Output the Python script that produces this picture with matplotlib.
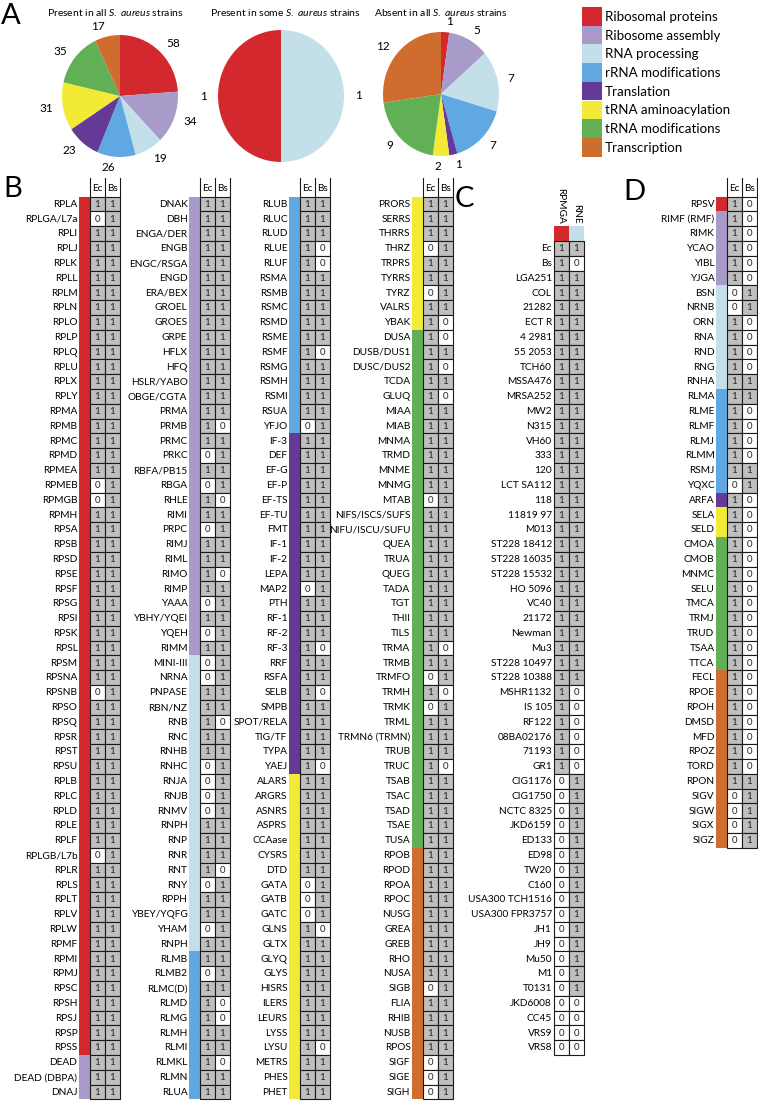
import matplotlib.pyplot as plt
from matplotlib.patches import Rectangle

plt.rcParams['font.family'] = ['Lato', 'DejaVu Sans']
plt.rcParams['mathtext.fontset'] = 'custom'
plt.rcParams['mathtext.it'] = 'Lato:italic'
plt.rcParams['mathtext.rm'] = 'Lato'

# categories and colours
categories = ['Ribosomal proteins', 'Ribosome assembly', 'RNA processing', 'rRNA modifications',
              'Translation', 'tRNA aminoacylation', 'tRNA modifications', 'Transcription']
cat_colors = ['#d2282e', '#a99bc9', '#c3dfea', '#60a8e2', '#653a97', '#f2ea35', '#62b056', '#cf6d2f']

# panel A pies
pie_all = [58, 34, 19, 26, 23, 31, 35, 17]
pie_some = [1, 1]
pie_some_cats = [0, 2]
pie_absent = [1, 5, 7, 7, 1, 2, 9, 12]

# panel B, four columns: genes, Ec, Bs, category run lengths
b1_genes = ['RPLA', 'RPLGA/L7a', 'RPLI', 'RPLJ', 'RPLK', 'RPLL', 'RPLM', 'RPLN', 'RPLO', 'RPLP',
            'RPLQ', 'RPLU', 'RPLX', 'RPLY', 'RPMA', 'RPMB', 'RPMC', 'RPMD', 'RPMEA', 'RPMEB',
            'RPMGB', 'RPMH', 'RPSA', 'RPSB', 'RPSD', 'RPSE', 'RPSF', 'RPSG', 'RPSI', 'RPSK',
            'RPSL', 'RPSM', 'RPSNA', 'RPSNB', 'RPSO', 'RPSQ', 'RPSR', 'RPST', 'RPSU', 'RPLB',
            'RPLC', 'RPLD', 'RPLE', 'RPLF', 'RPLGB/L7b', 'RPLR', 'RPLS', 'RPLT', 'RPLV', 'RPLW',
            'RPMF', 'RPMI', 'RPMJ', 'RPSC', 'RPSH', 'RPSJ', 'RPSP', 'RPSS', 'DEAD', 'DEAD (DBPA)',
            'DNAJ']
b1_ec = [1, 0, 1, 1, 1, 1, 1, 1, 1, 1, 1, 1, 1, 1, 1, 1, 1, 1, 1, 0,
         0, 1, 1, 1, 1, 1, 1, 1, 1, 1, 1, 1, 1, 0, 1, 1, 1, 1, 1, 1,
         1, 1, 1, 1, 0, 1, 1, 1, 1, 1, 1, 1, 1, 1, 1, 1, 1, 1, 1, 1, 1]
b1_bs = [1] * 61
b1_runs = [(0, 58), (1, 3)]

b2_genes = ['DNAK', 'DBH', 'ENGA/DER', 'ENGB', 'ENGC/RSGA', 'ENGD', 'ERA/BEX', 'GROEL', 'GROES', 'GRPE',
            'HFLX', 'HFQ', 'HSLR/YABO', 'OBGE/CGTA', 'PRMA', 'PRMB', 'PRMC', 'PRKC', 'RBFA/PB15', 'RBGA',
            'RHLE', 'RIMI', 'PRPC', 'RIMJ', 'RIML', 'RIMO', 'RIMP', 'YAAA', 'YBHY/YQEI', 'YQEH',
            'RIMM', 'MINI-III', 'NRNA', 'PNPASE', 'RBN/NZ', 'RNB', 'RNC', 'RNHB', 'RNHC', 'RNJA',
            'RNJB', 'RNMV', 'RNPH', 'RNP', 'RNR', 'RNT', 'RNY', 'RPPH', 'YBEY/YQFG', 'YHAM',
            'RNPH', 'RLMB', 'RLMB2', 'RLMC(D)', 'RLMD', 'RLMG', 'RLMH', 'RLMI', 'RLMKL', 'RLMN',
            'RLUA']
b2_ec = [1, 1, 1, 1, 1, 1, 1, 1, 1, 1, 1, 1, 1, 1, 1, 1, 1, 0, 1, 0,
         1, 1, 0, 1, 1, 1, 1, 0, 1, 0, 1, 0, 0, 1, 1, 1, 1, 1, 0, 0,
         0, 0, 1, 1, 1, 1, 0, 1, 1, 0, 1, 1, 0, 1, 1, 1, 1, 1, 1, 1, 1]
b2_bs = [1, 1, 1, 1, 1, 1, 1, 1, 1, 1, 1, 1, 1, 1, 1, 0, 1, 1, 1, 1,
         0, 1, 1, 1, 1, 0, 1, 1, 1, 1, 1, 1, 1, 1, 1, 0, 1, 1, 1, 1,
         1, 1, 1, 1, 1, 0, 1, 1, 1, 1, 1, 1, 1, 1, 0, 0, 1, 1, 0, 1, 1]
b2_runs = [(1, 31), (2, 20), (3, 10)]

b3_genes = ['RLUB', 'RLUC', 'RLUD', 'RLUE', 'RLUF', 'RSMA', 'RSMB', 'RSMC', 'RSMD', 'RSME',
            'RSMF', 'RSMG', 'RSMH', 'RSMI', 'RSUA', 'YFJO', 'IF-3', 'DEF', 'EF-G', 'EF-P',
            'EF-TS', 'EF-TU', 'FMT', 'IF-1', 'IF-2', 'LEPA', 'MAP2', 'PTH', 'RF-1', 'RF-2',
            'RF-3', 'RRF', 'RSFA', 'SELB', 'SMPB', 'SPOT/RELA', 'TIG/TF', 'TYPA', 'YAEJ', 'ALARS',
            'ARGRS', 'ASNRS', 'ASPRS', 'CCAase', 'CYSRS', 'DTD', 'GATA', 'GATB', 'GATC', 'GLNS',
            'GLTX', 'GLYQ', 'GLYS', 'HISRS', 'ILERS', 'LEURS', 'LYSS', 'LYSU', 'METRS', 'PHES',
            'PHET']
b3_ec = [1, 1, 1, 1, 1, 1, 1, 1, 1, 1, 1, 1, 1, 1, 1, 0, 1, 1, 1, 1,
         1, 1, 1, 1, 1, 1, 0, 1, 1, 1, 1, 1, 1, 1, 1, 1, 1, 1, 1, 1,
         1, 1, 1, 1, 1, 1, 0, 0, 0, 1, 1, 1, 1, 1, 1, 1, 1, 1, 1, 1, 1]
b3_bs = [1, 1, 1, 0, 0, 1, 1, 1, 1, 1, 0, 1, 1, 1, 1, 1, 1, 1, 1, 1,
         1, 1, 1, 1, 1, 1, 1, 1, 1, 1, 0, 1, 1, 0, 1, 1, 1, 1, 0, 1,
         1, 1, 1, 1, 1, 1, 1, 1, 1, 0, 1, 1, 1, 1, 1, 1, 1, 0, 1, 1, 1]
b3_runs = [(3, 16), (4, 23), (5, 22)]

b4_genes = ['PRORS', 'SERRS', 'THRRS', 'THRZ', 'TRPRS', 'TYRRS', 'TYRZ', 'VALRS', 'YBAK', 'DUSA',
            'DUSB/DUS1', 'DUSC/DUS2', 'TCDA', 'GLUQ', 'MIAA', 'MIAB', 'MNMA', 'TRMD', 'MNME', 'MNMG',
            'MTAB', 'NIFS/ISCS/SUFS', 'NIFU/ISCU/SUFU', 'QUEA', 'TRUA', 'QUEG', 'TADA', 'TGT', 'THII', 'TILS',
            'TRMA', 'TRMB', 'TRMFO', 'TRMH', 'TRMK', 'TRML', 'TRMN6 (TRMN)', 'TRUB', 'TRUC', 'TSAB',
            'TSAC', 'TSAD', 'TSAE', 'TUSA', 'RPOB', 'RPOD', 'RPOA', 'RPOC', 'NUSG', 'GREA',
            'GREB', 'RHO', 'NUSA', 'SIGB', 'FLIA', 'RHIB', 'NUSB', 'RPOS', 'SIGF', 'SIGE',
            'SIGH']
b4_ec = [1, 1, 1, 0, 1, 1, 0, 1, 1, 1, 1, 1, 1, 1, 1, 1, 1, 1, 1, 1,
         0, 1, 1, 1, 1, 1, 1, 1, 1, 1, 1, 1, 0, 1, 0, 1, 1, 1, 1, 1,
         1, 1, 1, 1, 1, 1, 1, 1, 1, 1, 1, 1, 1, 0, 1, 1, 1, 1, 0, 0, 0]
b4_bs = [1, 1, 1, 1, 1, 1, 1, 1, 0, 0, 1, 0, 1, 0, 1, 1, 1, 1, 1, 1,
         1, 1, 1, 1, 1, 1, 1, 1, 1, 1, 0, 1, 1, 0, 1, 1, 1, 1, 0, 1,
         1, 1, 1, 1, 1, 1, 1, 1, 1, 1, 1, 1, 1, 1, 1, 1, 1, 1, 1, 1, 1]
b4_runs = [(5, 9), (6, 35), (7, 17)]

# panel C: strains x (RPMGA, RNE)
c_strains = ['Ec', 'Bs', 'LGA251', 'COL', '21282', 'ECT R', '4 2981', '55 2053', 'TCH60', 'MSSA476',
             'MRSA252', 'MW2', 'N315', 'VH60', '333', '120', 'LCT SA112', '118', '11819 97', 'M013',
             'ST228 18412', 'ST228 16035', 'ST228 15532', 'HO 5096', 'VC40', '21172', 'Newman', 'Mu3',
             'ST228 10497', 'ST228 10388', 'MSHR1132', 'IS 105', 'RF122', '08BA02176', '71193', 'GR1',
             'CIG1176', 'CIG1750', 'NCTC 8325', 'JKD6159', 'ED133', 'ED98', 'TW20', 'C160',
             'USA300 TCH1516', 'USA300 FPR3757', 'JH1', 'JH9', 'Mu50', 'M1', 'T0131', 'JKD6008',
             'CC45', 'VRS9', 'VRS8']
c_genes = ['RPMGA', 'RNE']
c_gene_cats = [0, 2]
c_rpmga = [1] * 2 + [1] * 28 + [1] * 6 + [0] * 15 + [0] * 4
c_rne = [1, 0] + [1] * 28 + [0] * 6 + [1] * 15 + [0] * 4

# panel D
d_genes = ['RPSV', 'RIMF (RMF)', 'RIMK', 'YCAO', 'YIBL', 'YJGA', 'BSN', 'NRNB', 'ORN', 'RNA',
           'RND', 'RNG', 'RNHA', 'RLMA', 'RLME', 'RLMF', 'RLMJ', 'RLMM', 'RSMJ', 'YQXC',
           'ARFA', 'SELA', 'SELD', 'CMOA', 'CMOB', 'MNMC', 'SELU', 'TMCA', 'TRMJ', 'TRUD',
           'TSAA', 'TTCA', 'FECL', 'RPOE', 'RPOH', 'DMSD', 'MFD', 'RPOZ', 'TORD', 'RPON',
           'SIGV', 'SIGW', 'SIGX', 'SIGZ']
d_ec = [1, 1, 1, 1, 1, 1, 0, 0, 1, 1, 1, 1, 1, 1, 1, 1, 1, 1, 1, 0,
        1, 1, 1, 1, 1, 1, 1, 1, 1, 1, 1, 1, 1, 1, 1, 1, 1, 1, 1, 1, 0, 0, 0, 0]
d_bs = [0, 0, 0, 0, 0, 0, 1, 1, 0, 0, 0, 0, 1, 1, 0, 0, 0, 0, 1, 1,
        0, 0, 0, 0, 0, 0, 0, 0, 0, 0, 0, 0, 0, 0, 0, 0, 0, 0, 0, 1, 1, 1, 1, 1]
d_runs = [(0, 1), (1, 5), (2, 7), (3, 7), (4, 1), (5, 2), (6, 9), (7, 12)]

W, H = 758, 1103
fig = plt.figure(figsize=(W / 100, H / 100), dpi=100)
ax = fig.add_axes([0, 0, 1, 1])
ax.set_xlim(0, W)
ax.set_ylim(H, 0)
ax.axis('off')

Y0 = 196.5   # top of first table row
RH = 14.8    # row height
CW = 15.2    # cell width
BW = 10.5    # colour bar width
GRAY = '#bfbfbf'
LFS = 7.3    # label font size


def runs_to_cats(runs):
    out = []
    for c, n in runs:
        out += [c] * n
    return out


def draw_cells(x, r0, ec, bs):
    for i, (a, b) in enumerate(zip(ec, bs)):
        y = Y0 + (r0 + i) * RH
        for j, v in enumerate((a, b)):
            ax.add_patch(Rectangle((x + j * CW, y), CW, RH, fc=GRAY if v else 'white',
                                   ec='#1a1a1a', lw=0.8))
            ax.text(x + j * CW + CW / 2, y + RH / 2 + 0.5, str(v), ha='center', va='center',
                    fontsize=7, color='#222222')


def draw_header(x):
    for j, t in enumerate(['Ec', 'Bs']):
        ax.text(x + j * CW + CW / 2, Y0 - 8, t, ha='center', va='center', fontsize=7.2)
    for j in range(3):
        ax.plot([x + j * CW] * 2, [Y0 - 19, Y0], color='#1a1a1a', lw=0.8)


def draw_table(x, genes, ec, bs, runs):
    cats = runs_to_cats(runs)
    for i, g in enumerate(genes):
        y = Y0 + i * RH
        ax.add_patch(Rectangle((x - BW, y), BW, RH, fc=cat_colors[cats[i]], lw=0))
        ax.text(x - BW - 1.5, y + RH / 2 + 0.5, g, ha='right', va='center', fontsize=LFS)
    draw_header(x)
    draw_cells(x, 0, ec, bs)


# panel B
draw_table(89.5, b1_genes, b1_ec, b1_bs, b1_runs)
draw_table(199.5, b2_genes, b2_ec, b2_bs, b2_runs)
draw_table(299.5, b3_genes, b3_ec, b3_bs, b3_runs)
draw_table(422.5, b4_genes, b4_ec, b4_bs, b4_runs)

# panel D
draw_table(726.5, d_genes, d_ec, d_bs, d_runs)

# panel C
cx = 553.5
for j, (g, c) in enumerate(zip(c_genes, c_gene_cats)):
    ax.add_patch(Rectangle((cx + j * CW, Y0 + 2 * RH), CW, RH, fc=cat_colors[c], lw=0))
    ax.text(cx + j * CW + CW / 2, Y0 + 2 * RH - 2, g, rotation=270, ha='center', va='bottom',
            fontsize=LFS)
for i, s in enumerate(c_strains):
    ax.text(cx - 1.5, Y0 + (3 + i) * RH + RH / 2 + 0.5, s, ha='right', va='center', fontsize=LFS)
draw_cells(cx, 3, c_rpmga, c_rne)

# panel letters
for t, x, y in [('A', 1, 3), ('B', 3, 176), ('C', 455, 186), ('D', 623, 179)]:
    ax.text(x, y, t, ha='left', va='top', fontsize=21)

# legend
for i, (lab, col) in enumerate(zip(categories, cat_colors)):
    y = 7 + i * 18.7
    ax.add_patch(Rectangle((582, y), 20, 18.7, fc=col, lw=0))
    ax.text(605, y + 9.8, lab, ha='left', va='center', fontsize=9.6)

# pies
titles = [r'Present in all $\mathit{S.\ aureus}$ strains',
          r'Present in some $\mathit{S.\ aureus}$ strains',
          r'Absent in all $\mathit{S.\ aureus}$ strains']
pie_specs = [(120, 96, 58, 61, pie_all, cat_colors, False),
             (281, 96, 63, 66, pie_some, [cat_colors[k] for k in pie_some_cats], True),
             (441, 94, 58, 62, pie_absent, cat_colors, False)]
title_x = [115, 285, 441]
for (pcx, pcy, rx, ry, vals, cols, ccw), tt, tx in zip(pie_specs, titles, title_x):
    k = 1.45
    pax = fig.add_axes([(pcx - k * rx) / W, 1 - (pcy + k * ry) / H, 2 * k * rx / W, 2 * k * ry / H])
    pax.pie(vals, colors=cols, startangle=90, counterclock=ccw, labels=[str(v) for v in vals],
            labeldistance=1.17, textprops={'fontsize': 8.5}, wedgeprops={'linewidth': 0})
    pax.set_aspect('auto')
    pax.set_xlim(-k, k)
    pax.set_ylim(-k, k)
    ax.text(tx, 12, tt, ha='center', va='center', fontsize=7.5)

fig.savefig('out.png', dpi=100)
